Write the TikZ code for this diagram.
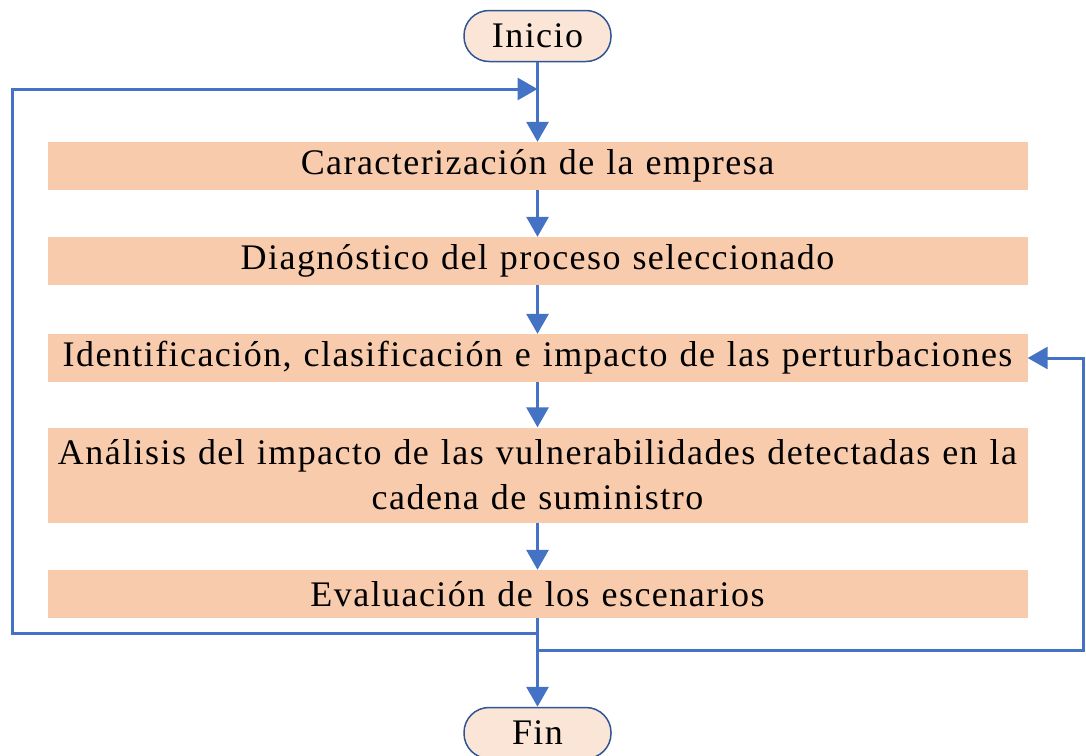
\documentclass[tikz,border=0pt]{standalone}
\usepackage{fontspec}
\setmainfont[LetterSpace=4]{Liberation Serif}
\usetikzlibrary{arrows.meta}
\definecolor{boxfill}{HTML}{F8CBAD}
\definecolor{endfill}{HTML}{FBE5D6}
\definecolor{flowline}{HTML}{4472C4}
\definecolor{endline}{HTML}{2F5597}
\begin{document}
\begin{tikzpicture}
    [x=1pt,y=-1pt,font=\fontsize{36}{45}\selectfont,
     stepbox/.style={fill=boxfill,minimum width=980pt,minimum height=48pt,
       inner xsep=10pt,inner ysep=0pt,text width=960pt,align=center},
     terminal/.style={draw=endline,line width=1.5pt,fill=endfill,rounded corners=25pt,
       minimum width=147pt,minimum height=51pt,inner sep=0pt},
     flow/.style={draw=flowline,line width=3pt,-{Triangle[length=20pt,width=22pt]}}]
    \useasboundingbox (0,0) rectangle (1086,755);
    \node (inicio) at (537.5,36) [terminal] {Inicio};
    \node (caract) at (537.5,166) [stepbox] {Caracterización de la empresa};
    \node (diag) at (537.5,261) [stepbox] {Diagnóstico del proceso seleccionado};
    \node (ident) at (537.5,358) [stepbox] {Identificación, clasificación e impacto de las perturbaciones};
    \node (analisis) at (537.5,475) [stepbox,minimum height=95pt] {Análisis del impacto de las vulnerabilidades detectadas en la\\cadena de suministro};
    \node (eval) at (537.5,594) [stepbox] {Evaluación de los escenarios};
    \node (fin) at (537.5,733) [terminal] {Fin};
    \coordinate (merge) at (537.5,89);
    \coordinate (cornerL) at (12,89);
    \coordinate (splitL) at (537.5,633);
    \coordinate (splitR) at (537.5,650);
    \coordinate (cornerR) at (1083,650);
    \draw [flow] (inicio) to (caract);
    \draw [flow] (caract) to (diag);
    \draw [flow] (diag) to (ident);
    \draw [flow] (ident) to (analisis);
    \draw [flow] (analisis) to (eval);
    \draw [flow] (eval) to (fin);
    \draw [flow] (splitL) -| (cornerL) -- (merge);
    \draw [flow] (splitR) -- (cornerR) |- (ident.east);
  \end{tikzpicture}
\end{document}
